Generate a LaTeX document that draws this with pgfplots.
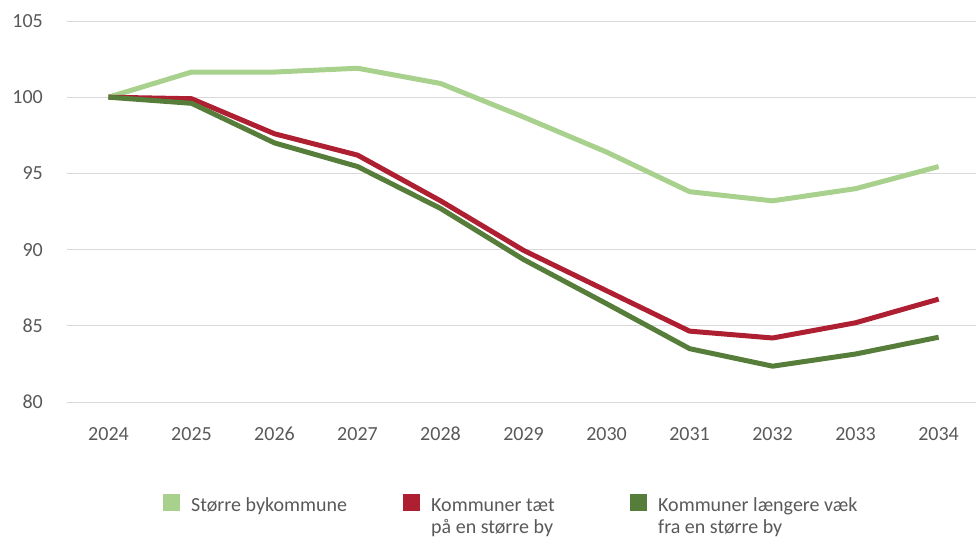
\documentclass[border=0pt]{standalone}
\usepackage{pgfplots}
\pgfplotsset{compat=1.18}
\usepackage{fontspec}
\setmainfont{Carlito}
\definecolor{lgreen}{HTML}{A9D18E}
\definecolor{dred}{HTML}{AE1F32}
\definecolor{dgreen}{HTML}{567D3A}
\definecolor{txt}{HTML}{595959}
\definecolor{grid}{HTML}{D9D9D9}
\newcommand{\lt}[3]{\makebox[#1][l]{\begin{tabular}[t]{@{}l@{}}#2\\#3\end{tabular}}}
\begin{document}
\begin{tikzpicture}
\begin{axis}[
  at={(0,0)}, anchor=south west,
  scale only axis, width=909pt, height=381pt,
  xmin=2023.5, xmax=2034.45, ymin=80, ymax=105,
  axis line style={draw=none},
  xtick={2024,...,2034}, ytick={80,85,...,105},
  xmajorgrids=false, ymajorgrids=true,
  y grid style={grid, line width=1pt},
  major tick length=0pt,
  /pgf/number format/1000 sep={},
  /pgf/number format/assume math mode=true,
  tick label style={font=\fontsize{20}{24}\selectfont, text=txt, inner sep=0pt},
  yticklabel style={anchor=east, xshift=-24pt},
  xticklabel style={anchor=north, yshift=-25pt},
  legend columns=3,
  legend style={at={(96pt,-92pt)}, anchor=north west, draw=none, fill=none, inner sep=0pt,
    font=\fontsize{20}{22}\selectfont, text=txt,
    /tikz/every odd column/.append style={column sep=11pt},
    /tikz/every even column/.append style={column sep=0pt},
    cells={anchor=base west},
    nodes={inner sep=0pt}},
  legend image code/.code={\fill[draw=none] (0pt,0pt) rectangle (17pt,17pt);},
]
\addplot[lgreen, line width=5pt, line join=round] coordinates {
(2024,100) (2025,101.65) (2026,101.65) (2027,101.9) (2028,100.9) (2029,98.7)
(2030,96.4) (2031,93.8) (2032,93.2) (2033,94.0) (2034,95.45)};
\addlegendentry{\lt{212pt}{Større bykommune}{}}
\addplot[dred, line width=5pt, line join=round] coordinates {
(2024,100) (2025,99.9) (2026,97.6) (2027,96.2) (2028,93.2) (2029,89.95)
(2030,87.3) (2031,84.65) (2032,84.2) (2033,85.2) (2034,86.75)};
\addlegendentry{\lt{199pt}{Kommuner tæt}{på en større by}}
\addplot[dgreen, line width=5pt, line join=round] coordinates {
(2024,100) (2025,99.6) (2026,97.0) (2027,95.45) (2028,92.7) (2029,89.35)
(2030,86.45) (2031,83.5) (2032,82.35) (2033,83.15) (2034,84.25)};
\addlegendentry{\lt{150pt}{Kommuner længere væk}{fra en større by}}
\end{axis}
\pgfresetboundingbox
\path[use as bounding box] (-67pt,-137pt) rectangle (909pt,402pt);
\end{tikzpicture}
\end{document}
